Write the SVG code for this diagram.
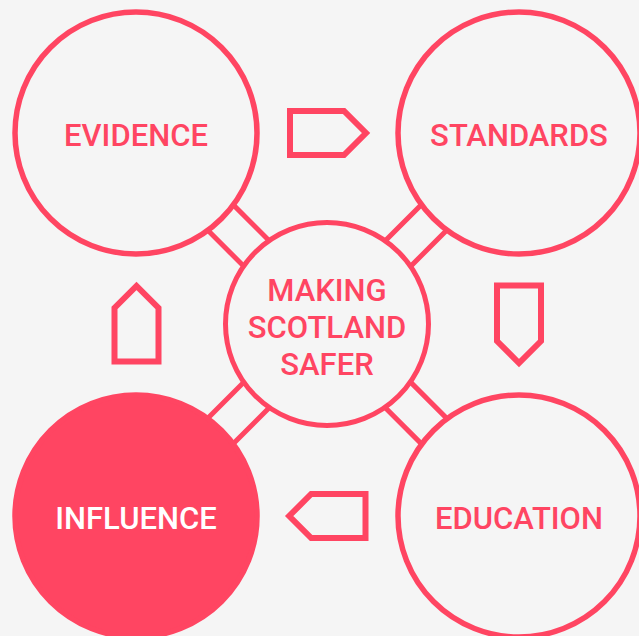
<svg xmlns="http://www.w3.org/2000/svg" width="639" height="636" viewBox="0 0 639 636">
  <style>
    .ring { fill: #f5f5f5; stroke: #ff4562; stroke-width: 5.5; }
    .hub { fill: #f5f5f5; stroke: #ff4562; stroke-width: 5; }
    .solid { fill: #ff4562; stroke: #ff4562; stroke-width: 5.5; }
    .bridge { fill: none; stroke: #ff4562; stroke-width: 5; }
    .arrow { fill: none; stroke: #ff4562; stroke-width: 6; stroke-linejoin: miter; }
    .lbl { font-family: Roboto, "Liberation Sans", sans-serif; font-size: 31px; font-weight: 500; fill: #ff4562; text-anchor: middle; }
    .lbl-w { fill: #ffffff; }
  </style>
  <rect width="639" height="636" fill="#f5f5f5"/>
  <g id="connectors">
    <rect class="bridge" x="-60" y="-18" width="120" height="36" transform="translate(231.5 228.5) rotate(45)"/>
    <rect class="bridge" x="-60" y="-18" width="120" height="36" transform="translate(423 228.5) rotate(-45)"/>
    <rect class="bridge" x="-60" y="-18" width="120" height="36" transform="translate(423 420) rotate(45)"/>
    <rect class="bridge" x="-60" y="-18" width="120" height="36" transform="translate(231.5 420) rotate(-45)"/>
    <path class="arrow" d="M290,111 H344 L366,133 L344,155 H290 Z"/>
    <path class="arrow" d="M497,285.5 H541 V341 L519,363 L497,341 Z"/>
    <path class="arrow" d="M365.5,494 V538 H311.2 L289.2,516 L311.2,494 Z"/>
    <path class="arrow" d="M114.5,361.5 V307.9 L136.5,285.9 L158.5,307.9 V361.5 Z"/>
  </g>
  <g id="evidence">
    <circle class="ring" cx="136" cy="133" r="121"/>
    <text class="lbl" x="136" y="146">EVIDENCE</text>
  </g>
  <g id="standards">
    <circle class="ring" cx="519" cy="133" r="121"/>
    <text class="lbl" x="519" y="146">STANDARDS</text>
  </g>
  <g id="education">
    <circle class="ring" cx="519" cy="516" r="121"/>
    <text class="lbl" x="519" y="529">EDUCATION</text>
  </g>
  <g id="influence">
    <circle class="solid" cx="136" cy="516" r="121"/>
    <text class="lbl lbl-w" x="136" y="529">INFLUENCE</text>
  </g>
  <g id="hub">
    <circle class="hub" cx="327" cy="324" r="101.5"/>
    <text class="lbl" x="327" y="301">MAKING</text>
    <text class="lbl" x="327" y="338">SCOTLAND</text>
    <text class="lbl" x="327" y="375">SAFER</text>
  </g>
</svg>
